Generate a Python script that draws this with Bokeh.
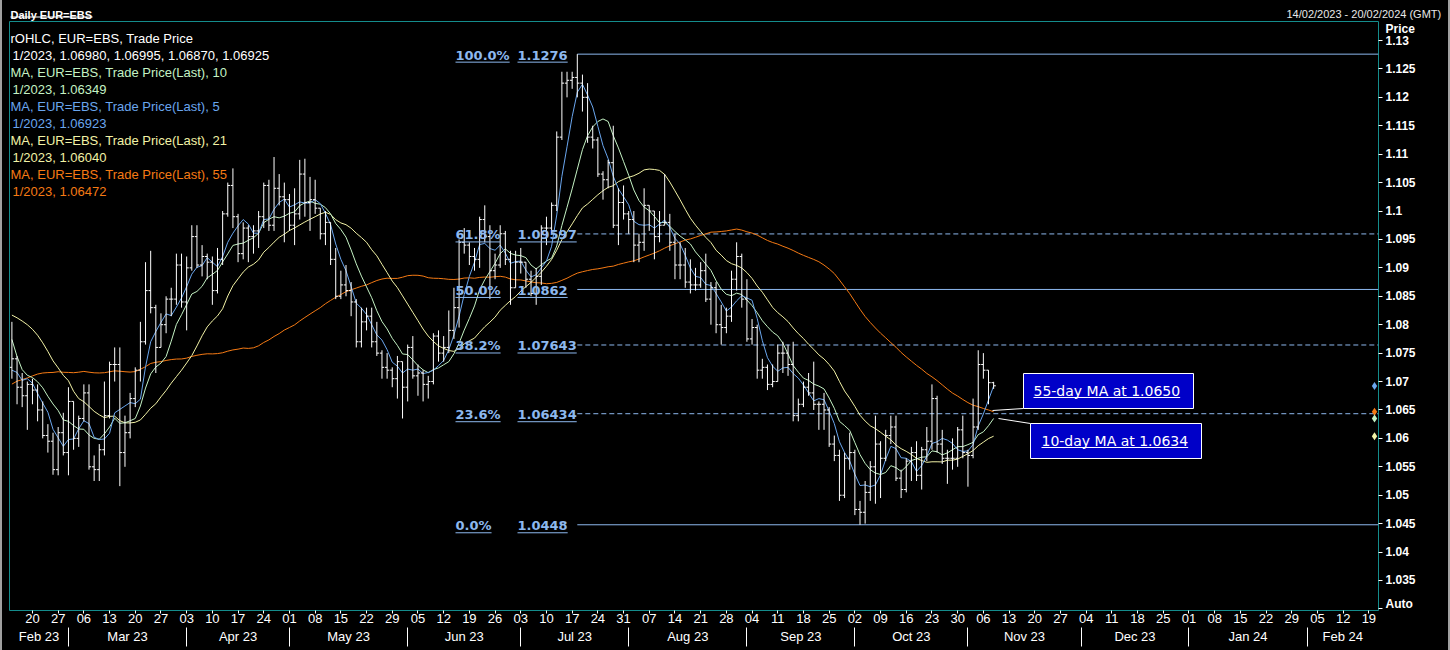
import numpy as np
import pandas as pd
from bokeh.plotting import figure
from bokeh.layouts import column
from bokeh.models import Range1d, LinearAxis, FixedTicker, ColumnDataSource
from bokeh.core.properties import value
from bokeh.embed import file_html
from bokeh.resources import INLINE

# ---------------- data ----------------
TITLE = "Daily EUR=EBS"
DATE_RANGE = "14/02/2023 - 20/02/2024 (GMT)"
FIRST_DAY, LAST_DAY, AXIS_END = "2023-02-14", "2023-11-08", "2024-02-20"

# closes before the first bar (28 Nov 2022 - 13 Feb 2023), for the moving averages
PRIOR_CLOSE = [1.0340, 1.0330, 1.0405,
               1.0520, 1.0535, 1.0490, 1.0470, 1.0505, 1.0555, 1.0530, 1.0540, 1.0630, 1.0680, 1.0625,
               1.0585, 1.0605, 1.0625, 1.0605, 1.0595, 1.0615, 1.0640, 1.0640, 1.0610, 1.0660, 1.0705,
               1.0670, 1.0550, 1.0605, 1.0520, 1.0645, 1.0735, 1.0735, 1.0760, 1.0855, 1.0830, 1.0820,
               1.0790, 1.0795, 1.0830, 1.0855, 1.0870, 1.0885, 1.0915, 1.0890, 1.0870, 1.0850, 1.0865,
               1.0990, 1.0905, 1.0795, 1.0725, 1.0725, 1.0710, 1.0745, 1.0680, 1.0725]
FIRST_OPEN = 1.0725

HIGH = [
    1.0805, 1.0745, 1.0715, 1.0700, 1.0705, 1.0695, 1.0665, 1.0625, 1.0610, 1.0620, 1.0645,  # Feb
    1.0690, 1.0665, 1.0640, 1.0695, 1.0695, 1.0570, 1.0590, 1.0700, 1.0735, 1.0760, 1.0760, 1.0640,
    1.0680, 1.0725, 1.0805, 1.0910, 1.0930, 1.0835, 1.0820, 1.0850, 1.0865, 1.0925, 1.0925,  # Mar
    1.0920, 1.0975, 1.0975, 1.0940, 1.0925, 1.0920, 1.0935, 1.1000, 1.1050, 1.1075, 1.0995, 1.0980,
    1.0975, 1.0975, 1.1000, 1.1050, 1.1055, 1.1095, 1.1065, 1.1050,  # Apr
    1.1030, 1.1040, 1.1090, 1.1092, 1.1060, 1.1055, 1.1005, 1.1000, 1.0980, 1.0935, 1.0895, 1.0905,
    1.0875, 1.0845, 1.0830, 1.0830, 1.0830, 1.0805, 1.0755, 1.0750, 1.0725, 1.0745, 1.0735,  # May
    1.0765, 1.0780, 1.0730, 1.0720, 1.0710, 1.0785, 1.0790, 1.0780, 1.0825, 1.0865, 1.0950, 1.0970,
    1.0945, 1.0935, 1.0990, 1.1010, 1.0975, 1.0925, 1.0975, 1.0965, 1.0930, 1.0930,  # Jun
    1.0935, 1.0900, 1.0895, 1.0900, 1.0975, 1.0990, 1.1015, 1.1140, 1.1245, 1.1245, 1.1245, 1.1276,
    1.1240, 1.1225, 1.1150, 1.1130, 1.1070, 1.1090, 1.1150, 1.1040, 1.1045,  # Jul
    1.1000, 1.1000, 1.0960, 1.1040, 1.1010, 1.1000, 1.1000, 1.1065, 1.0995, 1.0960, 1.0945, 1.0935,
    1.0915, 1.0900, 1.0910, 1.0925, 1.0875, 1.0875, 1.0835, 1.0830, 1.0895, 1.0945, 1.0925,  # Aug
    1.0880, 1.0810, 1.0800, 1.0740, 1.0730, 1.0730, 1.0765, 1.0770, 1.0765, 1.0770, 1.0670, 1.0700,
    1.0715, 1.0735, 1.0665, 1.0680, 1.0655, 1.0605, 1.0580, 1.0575, 1.0610,  # Sep
    1.0580, 1.0490, 1.0525, 1.0560, 1.0640, 1.0595, 1.0615, 1.0640, 1.0640, 1.0545, 1.0565, 1.0585,
    1.0595, 1.0585, 1.0620, 1.0695, 1.0675, 1.0615, 1.0580, 1.0600, 1.0620, 1.0640,  # Oct
    1.0580, 1.0670, 1.0755, 1.0750, 1.0720, 1.06995,  # Nov
]
LOW = [
    1.0705, 1.0660, 1.0655, 1.0615, 1.0660, 1.0630, 1.0600, 1.0575, 1.0536, 1.0535, 1.0570,  # Feb
    1.0535, 1.0580, 1.0585, 1.0630, 1.0545, 1.0525, 1.0525, 1.0570, 1.0635, 1.0700, 1.0516, 1.0550,
    1.0600, 1.0655, 1.0700, 1.0765, 1.0820, 1.0715, 1.0760, 1.0785, 1.0815, 1.0835, 1.0830,  # Mar
    1.0790, 1.0895, 1.0900, 1.0885, 1.0880, 1.0835, 1.0855, 1.0905, 1.0990, 1.0970, 1.0910, 1.0915,
    1.0910, 1.0925, 1.0935, 1.0970, 1.0965, 1.0965, 1.1010, 1.0945,  # Apr
    1.0965, 1.0940, 1.0985, 1.0990, 1.0965, 1.0995, 1.0950, 1.0940, 1.0905, 1.0845, 1.0845, 1.0850,
    1.0815, 1.0760, 1.0760, 1.0790, 1.0760, 1.0745, 1.0705, 1.0705, 1.0690, 1.0670, 1.0635,  # May
    1.0665, 1.0705, 1.0675, 1.0665, 1.0670, 1.0695, 1.0735, 1.0735, 1.0750, 1.0775, 1.0795, 1.0925,
    1.0905, 1.0895, 1.0900, 1.0945, 1.0845, 1.0880, 1.0900, 1.0905, 1.0835, 1.0865,  # Jun
    1.0890, 1.0865, 1.0850, 1.0835, 1.0870, 1.0940, 1.0960, 1.1000, 1.1125, 1.1200, 1.1215, 1.1200,
    1.1175, 1.1120, 1.1110, 1.1060, 1.1020, 1.1040, 1.0970, 1.0940, 1.0985,  # Jul
    1.0960, 1.0910, 1.0910, 1.0930, 1.0965, 1.0915, 1.0945, 1.0975, 1.0930, 1.0880, 1.0880, 1.0865,
    1.0855, 1.0860, 1.0865, 1.0840, 1.0800, 1.0785, 1.0765, 1.0785, 1.0805, 1.0860, 1.0830,  # Aug
    1.0770, 1.0765, 1.0705, 1.0705, 1.0685, 1.0690, 1.0705, 1.0715, 1.0710, 1.0630, 1.0630, 1.0655,
    1.0675, 1.0650, 1.0615, 1.0615, 1.0585, 1.0560, 1.0490, 1.0495, 1.0545,  # Sep
    1.0465, 1.0448, 1.0450, 1.0490, 1.0485, 1.0495, 1.0560, 1.0590, 1.0525, 1.0495, 1.0505, 1.0525,
    1.0525, 1.0510, 1.0560, 1.0580, 1.0575, 1.0555, 1.0520, 1.0545, 1.0550, 1.0565,  # Oct
    1.0515, 1.0565, 1.0615, 1.0705, 1.0660, 1.06870,  # Nov
]
CLOSE = [
    1.0740, 1.0690, 1.0675, 1.0695, 1.0685, 1.0650, 1.0605, 1.0595, 1.0545, 1.0610, 1.0575,  # Feb
    1.0665, 1.0600, 1.0635, 1.0680, 1.0550, 1.0545, 1.0580, 1.0640, 1.0730, 1.0730, 1.0575, 1.0610,
    1.0670, 1.0720, 1.0770, 1.0860, 1.0830, 1.0760, 1.0800, 1.0845, 1.0845, 1.0905, 1.0840,  # Mar
    1.0900, 1.0955, 1.0905, 1.0920, 1.0910, 1.0860, 1.0915, 1.0995, 1.1045, 1.0990, 1.0925, 1.0970,
    1.0955, 1.0965, 1.0990, 1.1045, 1.0975, 1.1040, 1.1025, 1.1020,  # Apr
    1.0975, 1.0995, 1.1065, 1.1015, 1.1020, 1.1005, 1.0960, 1.0980, 1.0915, 1.0850, 1.0870, 1.0860,
    1.0840, 1.0770, 1.0805, 1.0815, 1.0770, 1.0750, 1.0725, 1.0720, 1.0705, 1.0735, 1.0690,  # May
    1.0760, 1.0710, 1.0715, 1.0695, 1.0700, 1.0780, 1.0750, 1.0760, 1.0790, 1.0830, 1.0945, 1.0940,
    1.0920, 1.0915, 1.0985, 1.0955, 1.0895, 1.0905, 1.0960, 1.0915, 1.0865, 1.0910,  # Jun
    1.0910, 1.0880, 1.0855, 1.0885, 1.0970, 1.0970, 1.1010, 1.1130, 1.1225, 1.1230, 1.1235, 1.1225,
    1.1200, 1.1130, 1.1125, 1.1065, 1.1055, 1.1085, 1.0975, 1.1015, 1.0995,  # Jul
    1.0985, 1.0940, 1.0945, 1.1010, 1.1000, 1.0955, 1.0975, 1.0980, 1.0945, 1.0905, 1.0905, 1.0875,
    1.0870, 1.0870, 1.0895, 1.0845, 1.0865, 1.0800, 1.0795, 1.0815, 1.0880, 1.0920, 1.0845,  # Aug
    1.0775, 1.0795, 1.0720, 1.0725, 1.0695, 1.0700, 1.0750, 1.0750, 1.0730, 1.0640, 1.0660, 1.0690,
    1.0680, 1.0660, 1.0660, 1.0650, 1.0590, 1.0570, 1.0500, 1.0565, 1.0575,  # Sep
    1.0475, 1.0470, 1.0505, 1.0550, 1.0590, 1.0565, 1.0605, 1.0620, 1.0530, 1.0510, 1.0560, 1.0575,
    1.0535, 1.0580, 1.0595, 1.0670, 1.0590, 1.0565, 1.0565, 1.0565, 1.0615, 1.0575,  # Oct
    1.0570, 1.0620, 1.0730, 1.0720, 1.0698, 1.06925,  # Nov
]

FIB_PCT = ["0.0%", "23.6%", "38.2%", "50.0%", "61.8%", "100.0%"]
FIB_PRICE = [1.0448, 1.06434, 1.07643, 1.0862, 1.09597, 1.1276]
FIB_TEXT = ["1.0448", "1.06434", "1.07643", "1.0862", "1.09597", "1.1276"]
FIB_DASHED = [False, True, True, False, True, False]

LEGEND = ["rOHLC, EUR=EBS, Trade Price",
          "1/2023, 1.06980, 1.06995, 1.06870, 1.06925",
          "MA, EUR=EBS, Trade Price(Last),  10",
          "1/2023, 1.06349",
          "MA, EUR=EBS, Trade Price(Last),  5",
          "1/2023, 1.06923",
          "MA, EUR=EBS, Trade Price(Last),  21",
          "1/2023, 1.06040",
          "MA, EUR=EBS, Trade Price(Last),  55",
          "1/2023, 1.06472"]
CALLOUTS = ["55-day MA at 1.0650", "10-day MA at 1.0634"]
MONTHS = ["Feb 23", "Mar 23", "Apr 23", "May 23", "Jun 23", "Jul 23", "Aug 23",
          "Sep 23", "Oct 23", "Nov 23", "Dec 23", "Jan 24", "Feb 24"]
Y_TICKS = [1.03, 1.035, 1.04, 1.045, 1.05, 1.055, 1.06, 1.065, 1.07, 1.075, 1.08,
           1.085, 1.09, 1.095, 1.1, 1.105, 1.11, 1.115, 1.12, 1.125, 1.13]
Y_TICK_LABELS = ["", "1.035", "1.04", "1.045", "1.05", "1.055", "1.06", "1.065", "1.07", "1.075",
                 "1.08", "1.085", "1.09", "1.095", "1.1", "1.105", "1.11", "1.115", "1.12", "1.125", "1.13"]
AXIS_TITLE, AXIS_MODE = "Price", "Auto"
MA_WINDOWS = [5, 10, 21, 55]

# ---------------- styles ----------------
WHITE = "#ffffff"
TEAL = "#148c8c"
FIB_COLOR = "#8db8ee"
C5, C10, C21, C55 = "#6aa6ee", "#c4f2c4", "#f2f2a6", "#f57a14"
BOX = "#0000c8"
TOP_H = 21      # height of the caption strip
W = 1440
FRAME_L, FRAME_R = 9, 1378   # frame edges on the page (shared by both figures)

# page pixel -> data helpers
def px_x(px):
    return (px - 11.4) / 5.14

def py(px):
    return 1.13 - (px - 40) / 5684.0

dates = pd.bdate_range(FIRST_DAY, LAST_DAY)
n = len(dates)
assert len(HIGH) == n and len(LOW) == n and len(CLOSE) == n, (n, len(HIGH), len(LOW), len(CLOSE))
idx = np.arange(n)
OPEN = np.array([FIRST_OPEN] + CLOSE[:-1])
close = np.array(CLOSE)
high = np.maximum(np.array(HIGH), np.maximum(OPEN, close))
low = np.minimum(np.array(LOW), np.minimum(OPEN, close))

allc = np.array(PRIOR_CLOSE + CLOSE)
def sma(w):
    return np.convolve(allc, np.ones(w) / w, mode="valid")[-n:]
ma = {w: sma(w) for w in MA_WINDOWS}

# ---------------- caption strip (x in page pixels) ----------------
top = figure(width=W, height=TOP_H, x_range=Range1d(FRAME_L, FRAME_R), y_range=Range1d(TOP_H, 0),
             output_backend="svg", toolbar_location=None, x_axis_location=None, y_axis_location="right",
             min_border=0, min_border_left=1, min_border_right=0, min_border_top=0, min_border_bottom=0)
top.background_fill_color = "black"
top.border_fill_color = "black"
top.outline_line_color = None
top.grid.visible = False
top.text(x=[10], y=[14.5], text=[TITLE], text_color=WHITE, text_font=value("Liberation Sans"),
         text_font_style="bold", text_font_size=value("11px"), text_baseline="alphabetic", text_align="left")
top.segment(x0=[10], y0=[16.5], x1=[92], y1=[16.5], line_color=WHITE, line_width=1)
# date range carried by the strip's right axis, pulled back over the frame
ta = top.yaxis[0]
ta.ticker = FixedTicker(ticks=[13.5], minor_ticks=[])
ta.major_label_overrides = {13.5: DATE_RANGE}
ta.axis_line_color = None
ta.major_tick_line_color = None
ta.major_tick_out = 0
ta.major_tick_in = 0
ta.minor_tick_line_color = None
ta.minor_tick_out = 0
ta.major_label_standoff = -92
ta.major_label_text_color = "#e8e8e8"
ta.major_label_text_font = "Liberation Sans"
ta.major_label_text_font_size = "11px"

# ---------------- main chart ----------------
x_lo, x_hi = px_x(FRAME_L), px_x(FRAME_R)
p = figure(width=W, height=650 - TOP_H, x_range=Range1d(x_lo, x_hi), y_range=Range1d(py(610), py(21)),
           output_backend="svg", toolbar_location=None, y_axis_location="right",
           min_border_left=1, min_border_right=70, min_border_top=0, min_border_bottom=40)
p.background_fill_color = "black"
p.border_fill_color = "black"
p.outline_line_color = TEAL
p.outline_line_width = 1
p.grid.visible = False

# x axis (days)
axis_days = pd.bdate_range(FIRST_DAY, AXIS_END)
mondays = [i for i, d in enumerate(axis_days) if d.weekday() == 0]
xa = p.xaxis[0]
xa.ticker = FixedTicker(ticks=mondays, minor_ticks=[])
xa.major_label_overrides = {i: f"{axis_days[i].day:02d}" for i in mondays}
xa.axis_line_color = None
xa.major_tick_line_color = WHITE
xa.major_tick_out = 3
xa.major_tick_in = 0
xa.minor_tick_line_color = None
xa.minor_tick_out = 0
xa.major_label_standoff = 0
xa.major_label_text_color = WHITE
xa.major_label_text_font = "Liberation Sans"
xa.major_label_text_font_size = "13px"

# month axis (labels)
month_first = [i for i in range(1, len(axis_days)) if axis_days[i].month != axis_days[i - 1].month]
bounds = [x_lo] + month_first + [x_hi]
centers = [float((bounds[k] + bounds[k + 1]) / 2.0) for k in range(len(bounds) - 1)]
xb = LinearAxis(ticker=FixedTicker(ticks=centers, minor_ticks=[]))
xb.major_label_overrides = {c: lab for c, lab in zip(centers, MONTHS)}
xb.axis_line_color = None
xb.major_tick_line_color = None
xb.major_tick_out = 0
xb.major_tick_in = 0
xb.minor_tick_line_color = None
xb.minor_tick_out = 0
xb.major_label_standoff = 3
xb.major_label_text_color = WHITE
xb.major_label_text_font = "Liberation Sans"
xb.major_label_text_font_size = "13px"
p.add_layout(xb, "below")

# month separators: ticks pointing up from below the month labels
xc = LinearAxis(ticker=FixedTicker(ticks=month_first, minor_ticks=[]))
xc.major_label_overrides = {i: "" for i in month_first}
xc.major_label_text_font_size = "1px"
xc.major_label_standoff = 0
xc.axis_line_color = None
xc.major_tick_line_color = WHITE
xc.major_tick_in = 19
xc.major_tick_out = 0
xc.minor_tick_line_color = None
xc.minor_tick_out = 0
p.add_layout(xc, "below")

# y axis: tick marks only
ya = p.yaxis[0]
ya.ticker = FixedTicker(ticks=Y_TICKS, minor_ticks=[])
ya.major_label_overrides = {t: "" for t in Y_TICKS}
ya.major_label_text_font_size = "1px"
ya.major_label_standoff = 0
ya.axis_line_color = None
ya.major_tick_line_color = WHITE
ya.major_tick_out = 4
ya.major_tick_in = 0
ya.minor_tick_line_color = None
ya.minor_tick_out = 0

# y axis: labels (price ticks plus the axis caption and mode box text)
price_pos, auto_pos = py(28), py(603)
lab_ticks = [t for t, l in zip(Y_TICKS, Y_TICK_LABELS) if l] + [price_pos, auto_pos]
lab_text = [l for l in Y_TICK_LABELS if l] + [AXIS_TITLE, AXIS_MODE]
yb = LinearAxis(ticker=FixedTicker(ticks=lab_ticks, minor_ticks=[]))
yb.major_label_overrides = {t: l for t, l in zip(lab_ticks, lab_text)}
yb.axis_line_color = None
yb.major_tick_line_color = None
yb.major_tick_out = 0
yb.major_tick_in = 0
yb.minor_tick_line_color = None
yb.minor_tick_out = 0
yb.major_label_standoff = 3
yb.major_label_text_color = WHITE
yb.major_label_text_font = "Liberation Sans"
yb.major_label_text_font_style = "bold"
yb.major_label_text_font_size = "12px"
p.add_layout(yb, "right")

# fibonacci levels
hi_i = float(np.argmax(high))
for price, dashed in zip(FIB_PRICE, FIB_DASHED):
    p.segment(x0=[hi_i], y0=[price], x1=[x_hi], y1=[price], line_color=FIB_COLOR, line_width=1,
              line_dash="5 3" if dashed else "solid")

# moving averages
p.line(idx, ma[55], line_color=C55, line_width=1)
p.line(idx, ma[21], line_color=C21, line_width=1)
p.line(idx, ma[10], line_color=C10, line_width=1)
p.line(idx, ma[5], line_color=C5, line_width=1)

# OHLC bars
p.segment(x0=idx, y0=low, x1=idx, y1=high, line_color=WHITE, line_width=1)
p.segment(x0=idx - 0.42, y0=OPEN, x1=idx, y1=OPEN, line_color=WHITE, line_width=1)
p.segment(x0=idx, y0=close, x1=idx + 0.42, y1=close, line_color=WHITE, line_width=1)

# fib labels with underline
BOLD_W = {"%": 1.002, ".": 0.380}
def bold_width(s, size=13):
    return sum(BOLD_W.get(ch, 0.696) for ch in s) * size

def line_px(price):
    return 40 + (1.13 - price) * 5684.0

fy = [py(line_px(v) + 1) for v in FIB_PRICE]
p.text(x=[px_x(455)] * len(FIB_PCT), y=fy, text=FIB_PCT, text_color=FIB_COLOR,
       text_font=value("DejaVu Sans"), text_font_style="bold", text_font_size=value("13px"),
       text_baseline="middle", text_align="left")
p.text(x=[px_x(517)] * len(FIB_TEXT), y=fy, text=FIB_TEXT, text_color=FIB_COLOR,
       text_font=value("DejaVu Sans"), text_font_style="bold", text_font_size=value("13px"),
       text_baseline="middle", text_align="left")
ux0, ux1, uy = [], [], []
for s1, s2, v in zip(FIB_PCT, FIB_TEXT, FIB_PRICE):
    yy = py(line_px(v) + 8)
    ux0 += [px_x(455), px_x(517)]
    ux1 += [px_x(455 + bold_width(s1)), px_x(517 + bold_width(s2))]
    uy += [yy, yy]
p.segment(x0=ux0, y0=uy, x1=ux1, y1=uy, line_color=FIB_COLOR, line_width=1)

# legend text (top-left)
LEG_X = [10, 12, 10, 12, 10, 12, 10, 12, 10, 12]
LEG_C = [WHITE, WHITE, C10, C10, C5, C5, C21, C21, C55, C55]
src_leg = ColumnDataSource(dict(x=[px_x(v) for v in LEG_X], y=[py(38 + 17 * k) for k in range(len(LEGEND))],
                                text=LEGEND, color=LEG_C))
p.text(x="x", y="y", text="text", text_color="color", source=src_leg, text_font=value("Liberation Sans"),
       text_font_size=value("13px"), text_baseline="middle", text_align="left")

# callout boxes
p.segment(x0=[px_x(1023), px_x(1030)], y0=[py(408), py(423)], x1=[px_x(992), px_x(998)], y1=[py(410), py(418)],
          line_color=WHITE, line_width=1)
p.quad(left=[px_x(1023), px_x(1030)], right=[px_x(1193), px_x(1201)], top=[py(373), py(423)],
       bottom=[py(408), py(458)], fill_color=BOX, line_color=WHITE, line_width=1)
p.text(x=[px_x(1033), px_x(1041)], y=[py(390), py(440)], text=CALLOUTS, text_color=WHITE,
       text_font=value("DejaVu Sans"), text_font_size=value("14px"), text_baseline="middle", text_align="left")
REG_W = {"-": 0.361, "d": 0.635, "a": 0.613, "y": 0.592, " ": 0.318, "M": 0.863, "A": 0.684, "t": 0.392, ".": 0.318}
def reg_width(s, size=14):
    return sum(REG_W.get(ch, 0.636) for ch in s) * size
p.segment(x0=[px_x(1033), px_x(1041)], y0=[py(397), py(447)],
          x1=[px_x(1033 + reg_width(CALLOUTS[0])), px_x(1041 + reg_width(CALLOUTS[1]))], y1=[py(397), py(447)],
          line_color=WHITE, line_width=1)

# last-value markers on the price axis
p.scatter(x=[px_x(1374)] * 4, y=[ma[5][-1], ma[55][-1], ma[10][-1], ma[21][-1]], marker="diamond", size=8,
          fill_color=[C5, C55, C10, C21], line_color=None)

layout = column(top, p, spacing=0)
html = file_html(layout, INLINE, title="Daily EUR=EBS")
style = ("<style>html{background:#000;border-left:2px solid #a0a0a0;border-right:2px solid #a0a0a0;"
         "overflow:hidden;}body{margin:0 0 0 6px !important;background:#000;overflow:hidden;}</style>")
html = html.replace("</head>", style + "</head>", 1)
open("out.html", "w").write(html)
